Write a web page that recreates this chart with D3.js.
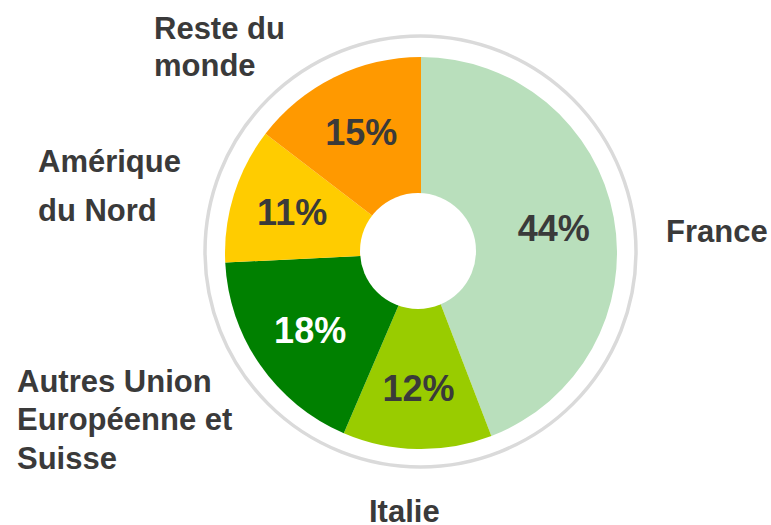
<html>
<head>
<meta charset="utf-8">
<script src="https://d3js.org/d3.v7.min.js"></script>
<style>
  body { margin: 0; background: #ffffff; }
  svg text { font-family: "Liberation Sans", Arial, sans-serif; font-weight: bold; }
</style>
</head>
<body>
<svg id="chart"></svg>
<script>
  // data, clockwise from 12 o'clock
  var regions = ["France", "Italie", "Autres Union Européenne et Suisse", "Amérique du Nord", "Reste du monde"]
  var shares = [44.2, 12.3, 17.8, 11.2, 14.6]
  var sliceColors = ["#b9dfbc", "#99cc00", "#008000", "#ffcc00", "#ff9900"]
  var pctColors = ["#3a3a3a", "#3a3a3a", "#ffffff", "#3a3a3a", "#3a3a3a"]

  // category labels as they are broken on the chart
  var labelLines = [["France"], ["Italie"], ["Autres Union", "Européenne et", "Suisse"], ["Amérique", "du Nord"], ["Reste du", "monde"]]

  var width = 771
  var height = 525

  var cx = 421, cy = 253
  var radius = 196

  var svg = d3.select("#chart")
    .attr("width", width)
    .attr("height", height)

  // grey ring round the pie
  svg.append("circle")
    .attr("cx", cx - 0.5)
    .attr("cy", cy - 1.5)
    .attr("r", radius + 19.5)
    .attr("fill", "none")
    .attr("stroke", "#dadada")
    .attr("stroke-width", 3.5)

  var pie = d3.pie().sort(null).value(function (d) { return d })
  var arcs = pie(shares)

  var arc = d3.arc().innerRadius(0).outerRadius(radius)
  var labelArc = d3.arc().innerRadius(135).outerRadius(135)

  var g = svg.append("g")
    .attr("transform", "translate(" + cx + "," + cy + ")")

  g.selectAll("path")
    .data(arcs)
    .enter().append("path")
    .attr("d", arc)
    .attr("fill", function (d, i) { return sliceColors[i] })

  // hole (sits a little off centre in the original)
  g.append("circle")
    .attr("cx", -3)
    .attr("cy", -2)
    .attr("r", 58)
    .attr("fill", "#ffffff")

  g.selectAll("text.pct")
    .data(arcs)
    .enter().append("text")
    .attr("class", "pct")
    .attr("transform", function (d) { return "translate(" + labelArc.centroid(d) + ")" })
    .attr("dy", "0.35em")
    .attr("text-anchor", "middle")
    .attr("font-size", 36)
    .attr("fill", function (d, i) { return pctColors[i] })
    .text(function (d) { return Math.round(d.data) + "%" })

  // outside category labels: left x, first baseline, line step
  var labelPos = [
    { x: 666, y: 242, step: 0 },
    { x: 369, y: 522, step: 0 },
    { x: 17, y: 392, step: 38.3 },
    { x: 38, y: 172, step: 49 },
    { x: 154, y: 39, step: 37 }
  ]

  labelLines.forEach(function (lines, i) {
    var t = svg.append("text")
      .attr("font-size", 31)
      .attr("fill", "#3a3a3a")
    lines.forEach(function (line, j) {
      t.append("tspan")
        .attr("x", labelPos[i].x)
        .attr("y", labelPos[i].y + j * labelPos[i].step)
        .text(line)
    })
  })
</script>
</body>
</html>
